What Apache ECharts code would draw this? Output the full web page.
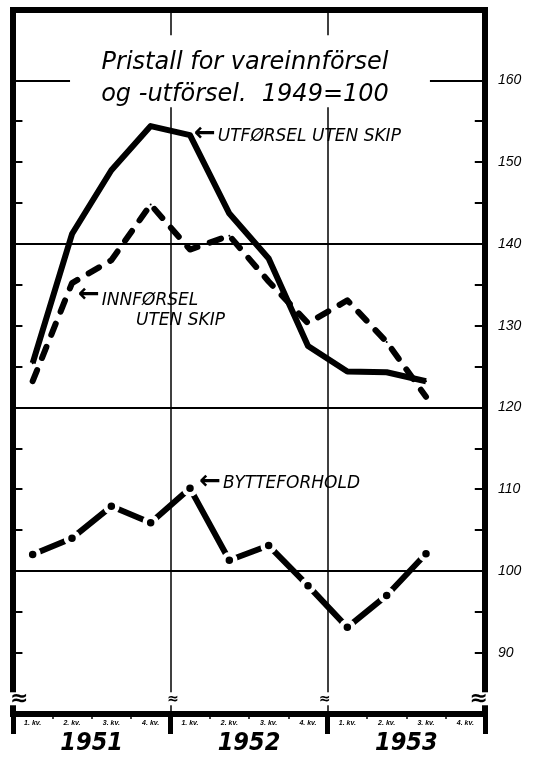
<!DOCTYPE html>
<html>
<head>
<meta charset="utf-8">
<script src="https://cdn.jsdelivr.net/npm/echarts@6/dist/echarts.min.js"></script>
<style>
html,body{margin:0;padding:0;background:#fff;}
#c{width:537px;height:757px;}
</style>
</head>
<body>
<div id="c"></div>
<script>
// ---- data ----
const quarterLabels = ['1. kv.','2. kv.','3. kv.','4. kv.','1. kv.','2. kv.','3. kv.','4. kv.','1. kv.','2. kv.','3. kv.','4. kv.'];
const years = ['1951','1952','1953'];
const utforsel = [125.4, 141.2, 149.0, 154.4, 153.3, 143.7, 138.2, 127.5, 124.4, 124.3, 123.2];
const innforsel = [123.2, 135.2, 138.0, 144.8, 139.3, 141.0, 135.4, 130.3, 133.1, 128.0, 121.3];
const bytteforhold = [102.0, 104.0, 107.9, 105.9, 110.1, 101.3, 103.1, 98.2, 93.1, 97.0, 102.1];
const yTickValues = [90,95,105,110,115,125,130,135,145,150,155];
const yLabelValues = [90,100,110,120,130,140,150,160];
const gridValues = [140,120,100];
const yearCenters = [2,6,10];
const quarterCenters = [0.5,1.5,2.5,3.5,4.5,5.5,6.5,7.5,8.5,9.5,10.5,11.5];

const Y_MIN = 82.5, Y_MAX = 168.6;
const FONT = 'DejaVu Sans, Liberation Sans, sans-serif';

function pts(arr){ return arr.map((v,i)=>[i+0.5, v]); }

const arrowRich = {fontSize:26,fontWeight:'bold',fontFamily:'DejaVu Sans',color:'#000',padding:[0,2,3,0]};
const txtRich = {fontSize:17,fontStyle:'italic',fontFamily:FONT,color:'#000'};

const utData = pts(utforsel);
utData[4] = {value: utData[4], label:{show:true, position:'right', distance:3, offset:[0,1],
  formatter:'{a|←}{t|UTFØRSEL UTEN SKIP}', rich:{a:arrowRich,t:txtRich}}};

const inData = pts(innforsel);
inData[1] = {value: inData[1], label:{show:true, position:'right', distance:5, offset:[0,27],
  formatter:'{a|←}{t|INNFØRSEL}\n{s| }{t|UTEN SKIP}',
  rich:{a:Object.assign({},arrowRich,{padding:[0,2,10,0],lineHeight:20}),
        t:Object.assign({},txtRich,{lineHeight:20}),
        s:{width:58,fontSize:15}}}};

const byData = pts(bytteforhold);
byData[4] = {value: byData[4], label:{show:true, position:'right', distance:1, offset:[0,-5],
  formatter:'{a|←}{t|BYTTEFORHOLD}', rich:{a:arrowRich,t:txtRich}}};

const chart = echarts.init(document.getElementById('c'), null, {renderer:'canvas'});

const markData = gridValues.map(v=>({yAxis:v}));
markData.push([{coord:[0,160]},{coord:[1.45,160]}]);
markData.push([{coord:[10.6,160]},{coord:[12,160]}]);
[4,8].forEach(x=>{
  markData.push([{coord:[x,Y_MAX],lineStyle:{width:1.5}},{coord:[x,165.5]}]);
  markData.push([{coord:[x,156.7],lineStyle:{width:1.5}},{coord:[x,Y_MIN]}]);
});
// inner ticks on both side frames
yTickValues.forEach(v=>{
  markData.push([{coord:[0,v]},{coord:[0.24,v]}]);
  markData.push([{coord:[11.74,v]},{coord:[12,v]}]);
});

const option = {
  backgroundColor:'#fff',
  animation:false,
  title:{
    text:'Pristall for vareinnförsel\nog -utförsel.  1949=100',
    left:240, top:42, textAlign:'center',
    textStyle:{fontSize:24,fontStyle:'italic',fontWeight:'normal',fontFamily:FONT,color:'#000',lineHeight:32}
  },
  grid:{left:13,right:52,top:10,bottom:43,show:true,borderColor:'#000',borderWidth:6,backgroundColor:'transparent'},
  xAxis:[{
    type:'value',min:0,max:12,interval:4,position:'bottom',
    axisLine:{show:true,lineStyle:{color:'#000',width:5}},
    axisTick:{show:true,length:20,lineStyle:{color:'#000',width:5}},
    minorTick:{show:true,splitNumber:4,length:5,lineStyle:{color:'#000',width:1.5}},
    splitLine:{show:false},
    axisLabel:{customValues:quarterCenters,formatter:(v)=>quarterLabels[Math.round(v-0.5)],
      fontSize:7,fontStyle:'italic',fontWeight:'bold',fontFamily:'Liberation Sans',color:'#000',margin:6}
  },{
    type:'value',min:0,max:12,position:'bottom',
    axisLine:{show:false},axisTick:{show:false},splitLine:{show:false},
    axisLabel:{customValues:yearCenters,formatter:(v)=>years[Math.round((v-2)/4)],
      fontSize:25,fontStyle:'italic',fontWeight:'bold',fontFamily:'Liberation Sans Narrow, DejaVu Sans Condensed, Liberation Sans',color:'#000',margin:17}
  }],
  yAxis:[{
    type:'value',min:Y_MIN,max:Y_MAX,position:'left',
    axisLine:{show:false},axisTick:{show:false},
    axisLabel:{show:false},splitLine:{show:false}
  },{
    type:'value',min:Y_MIN,max:Y_MAX,position:'right',
    axisLine:{show:false},axisTick:{show:false},
    axisLabel:{show:true,customValues:yLabelValues,fontSize:14,fontStyle:'italic',fontFamily:'Liberation Sans',color:'#000',margin:13},
    splitLine:{show:false}
  }],
  series:[{
    name:'Utførsel uten skip',type:'line',data:utData,
    lineStyle:{color:'#000',width:6,join:'round'},
    symbol:'circle',symbolSize:2,showAllSymbol:true,itemStyle:{color:'#000'},
    z:4,
    markLine:{silent:true,symbol:['none','none'],label:{show:false},
      lineStyle:{color:'#000',width:2,type:'solid'},data:markData,z:1}
  },{
    name:'Innførsel uten skip',type:'line',data:inData,
    lineStyle:{color:'#000',width:6,type:[12,13],cap:'round',join:'round'},
    symbol:'circle',symbolSize:2,showAllSymbol:true,itemStyle:{color:'#000'},
    z:3
  },{
    name:'Bytteforhold',type:'line',data:byData,
    lineStyle:{color:'#000',width:6,cap:'round'},
    symbol:'circle',symbolSize:12,showAllSymbol:true,
    itemStyle:{color:'#000',borderColor:'#fff',borderWidth:4.5},
    z:3
  }]
};
chart.setOption(option);

// break symbols on frame and year lines
const yb = chart.convertToPixel({yAxisIndex:0}, 84.3);
const g = [];
[[0,'r',22],[4,'r',14],[8,'l',14],[12,'l',22]].forEach(([xv,side,fs])=>{
  const px = chart.convertToPixel({xAxisIndex:0}, xv);
  const w = fs>16 ? 10 : 4;
  g.push({type:'rect',shape:{x:px-w/2,y:yb-7,width:w,height:13},style:{fill:'#fff'},z:100});
  g.push({type:'text',x: side==='r'? px-3 : px+3, y: yb,
    style:{text:'≈',fontSize:fs,fontWeight:'bold',fontFamily:'DejaVu Sans',fill:'#000',
      align: side==='r'?'left':'right', verticalAlign:'middle'},z:101});
});
chart.setOption({graphic:g});
</script>
</body>
</html>
